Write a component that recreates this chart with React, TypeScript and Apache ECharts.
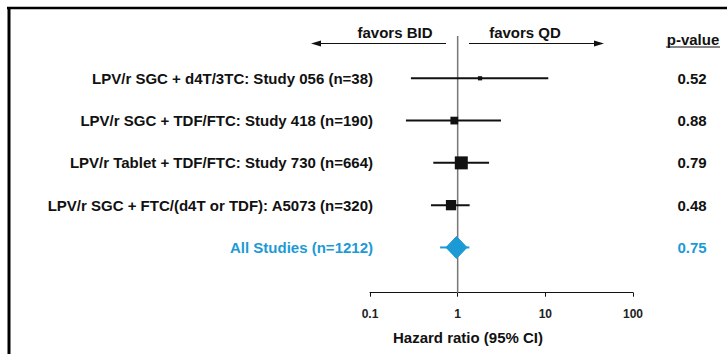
import React, { useEffect, useRef } from 'react';
import * as echarts from 'echarts';

const studies = [
  'LPV/r SGC + d4T/3TC: Study 056 (n=38)',
  'LPV/r SGC + TDF/FTC: Study 418 (n=190)',
  'LPV/r Tablet + TDF/FTC: Study 730 (n=664)',
  'LPV/r SGC + FTC/(d4T or TDF): A5073 (n=320)',
  'All Studies (n=1212)',
];
const hazardRatio = [1.8, 0.915, 1.1, 0.84, 0.97];
const ciLower = [0.293, 0.257, 0.527, 0.496, 0.63];
const ciUpper = [10.8, 3.12, 2.28, 1.37, 1.36];
const weights = [5, 17, 48, 30, 100];
const pValues = ['0.52', '0.88', '0.79', '0.48', '0.75'];
const xMin = 0.1;
const xMax = 100;
const referenceValue = 1;

const BLUE = '#1c9ad6';
const INK = '#111111';
const FONT = '"Liberation Sans", Arial, Helvetica, sans-serif';
const Y_MAX = 6.07;

export default function App() {
  const ref = useRef<HTMLDivElement>(null);
  useEffect(() => {
    document.body.style.margin = '0';
    const chart = echarts.init(ref.current!, null, { renderer: 'svg' });
    const pooledIndex = studies.length - 1;
    const isPooled = (v: any) => Number(v) === pooledIndex + 1;
    const data = studies.map((_, i) => [ciLower[i], ciUpper[i], hazardRatio[i], i + 1, weights[i]]);
    const option: any = {
      animation: false,
      grid: { left: 370, right: 94, top: 36, bottom: 354 - 292.7, containLabel: false },
      xAxis: {
        type: 'log',
        logBase: 10,
        min: xMin,
        max: xMax,
        position: 'bottom',
        axisLine: { show: true, onZero: false, lineStyle: { color: INK, width: 1 } },
        axisTick: { show: true, length: 4, lineStyle: { color: INK, width: 1 } },
        axisLabel: {
          color: '#222',
          fontSize: 12,
          fontWeight: 'bold',
          fontFamily: FONT,
          margin: 15,
          formatter: (v: number) => String(v),
        },
        splitLine: { show: false },
        minorTick: { show: false },
      },
      yAxis: [
        {
          type: 'value',
          min: 0,
          max: Y_MAX,
          interval: 1,
          inverse: true,
          axisLine: { show: false },
          axisTick: { show: false },
          splitLine: { show: false },
          axisLabel: {
            margin: -3,
            fontSize: 15,
            fontWeight: 'bold',
            fontFamily: FONT,
            color: (v: any) => (isPooled(v) ? BLUE : INK),
            formatter: (v: number) => studies[v - 1] ?? '',
          },
        },
        {
          type: 'value',
          position: 'right',
          min: 0,
          max: Y_MAX,
          interval: 1,
          inverse: true,
          axisLine: { show: false },
          axisTick: { show: false },
          splitLine: { show: false },
          axisLabel: {
            margin: 59,
            align: 'center',
            padding: [5, 0, 0, 0],
            fontSize: 15,
            fontWeight: 'bold',
            fontFamily: FONT,
            color: (v: any) => (isPooled(v) ? BLUE : INK),
            formatter: (v: number) => pValues[v - 1] ?? '',
          },
        },
      ],
      series: [
        {
          type: 'custom',
          z: 1,
          silent: true,
          data: [[referenceValue]],
          encode: { x: 0 },
          renderItem: (_p: any, api: any) => {
            const top = api.coord([api.value(0), 0]);
            const bot = api.coord([api.value(0), Y_MAX]);
            return {
              type: 'line',
              shape: { x1: top[0], y1: top[1], x2: bot[0], y2: bot[1] },
              style: { stroke: '#777', lineWidth: 1.5 },
            };
          },
        },
        {
          type: 'custom',
          z: 2,
          silent: true,
          data,
          encode: { x: [0, 1, 2], y: 3 },
          renderItem: (params: any, api: any) => {
            const row = api.value(3);
            const lo = api.coord([api.value(0), row]);
            const hi = api.coord([api.value(1), row]);
            const mid = api.coord([api.value(2), row]);
            const pooled = params.dataIndex === pooledIndex;
            const color = pooled ? BLUE : INK;
            const children: any[] = [
              {
                type: 'line',
                shape: { x1: lo[0], y1: lo[1], x2: hi[0], y2: hi[1] },
                style: { stroke: color, lineWidth: 2 },
              },
            ];
            if (pooled) {
              const w = 10.5;
              const h = 11;
              children.push({
                type: 'polygon',
                shape: {
                  points: [
                    [mid[0] - w, mid[1]],
                    [mid[0], mid[1] - h],
                    [mid[0] + w, mid[1]],
                    [mid[0], mid[1] + h],
                  ],
                },
                style: { fill: color, stroke: color, lineWidth: 1, lineJoin: 'round' },
              });
            } else {
              const s = Math.sqrt(api.value(4)) * 1.876;
              children.push({
                type: 'rect',
                shape: { x: mid[0] - s / 2, y: mid[1] - s / 2, width: s, height: s },
                style: { fill: color },
              });
            }
            return { type: 'group', children };
          },
        },
      ],
      graphic: [
        { type: 'line', shape: { x1: 7, y1: 8, x2: 727, y2: 8 }, style: { stroke: '#000', lineWidth: 2.5 } },
        { type: 'line', shape: { x1: 9, y1: 7, x2: 9, y2: 354 }, style: { stroke: '#000', lineWidth: 3 } },
        {
          type: 'text',
          x: 395,
          y: 32,
          style: { text: 'favors BID', font: `bold 15px ${FONT}`, fill: INK, align: 'center', verticalAlign: 'middle' },
        },
        {
          type: 'text',
          x: 525,
          y: 32,
          style: { text: 'favors QD', font: `bold 15px ${FONT}`, fill: INK, align: 'center', verticalAlign: 'middle' },
        },
        { type: 'line', shape: { x1: 446, y1: 43.5, x2: 318, y2: 43.5 }, style: { stroke: INK, lineWidth: 1 } },
        { type: 'polygon', shape: { points: [[311, 43.5], [321, 40.5], [321, 46.5]] }, style: { fill: INK } },
        { type: 'line', shape: { x1: 469, y1: 43.5, x2: 597, y2: 43.5 }, style: { stroke: INK, lineWidth: 1 } },
        { type: 'polygon', shape: { points: [[604, 43.5], [594, 40.5], [594, 46.5]] }, style: { fill: INK } },
        {
          type: 'text',
          x: 693,
          y: 39,
          style: { text: 'p-value', font: `bold 15px ${FONT}`, fill: INK, align: 'center', verticalAlign: 'middle' },
        },
        { type: 'line', shape: { x1: 666, y1: 47, x2: 720, y2: 47 }, style: { stroke: INK, lineWidth: 1.2 } },
        {
          type: 'text',
          x: 468,
          y: 337,
          style: {
            text: 'Hazard ratio (95% CI)',
            font: `bold 15px ${FONT}`,
            fill: INK,
            align: 'center',
            verticalAlign: 'middle',
          },
        },
      ],
    };
    chart.setOption(option);
    return () => chart.dispose();
  }, []);
  return <div ref={ref} style={{ width: 727, height: 354 }} />;
}
